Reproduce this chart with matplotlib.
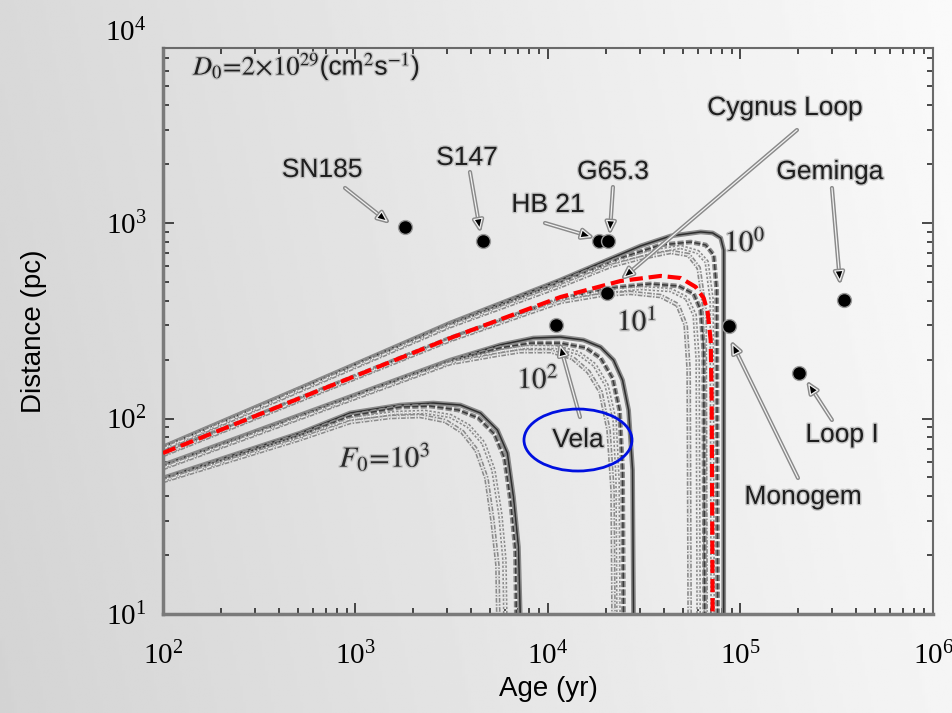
import numpy as np
import matplotlib
matplotlib.use("Agg")
import matplotlib.pyplot as plt
import matplotlib.patheffects as pe
from matplotlib.patches import Ellipse
from matplotlib.ticker import LogLocator, NullFormatter

plt.rcParams["font.family"] = ["Liberation Sans", "DejaVu Sans"]
plt.rcParams["mathtext.fontset"] = "stix"

# ---- curves: age (yr), distance (pc) ----
# F0 = 10^0
age_f0_a = [100, 516, 3110, 11610, 30280, 43380, 62130, 71720, 78960, 81840, 81840, 81840]
dist_f0_a = [71.5, 143, 308, 511, 763, 858, 900, 889, 838, 728, 404, 9]
age_f0_b = [100, 3110, 11610, 23830, 38480, 55110, 65970, 72600, 75240, 76140]
dist_f0_b = [71, 304, 499, 662, 772, 799, 772, 686, 454, 9]
age_f0_c = [100, 3110, 11610, 22440, 34140, 48900, 59940, 66750, 70860, 71720]
dist_f0_c = [70.6, 301, 488, 632, 711, 754, 711, 632, 404, 9]
age_f0_d = [100, 3110, 11610, 21150, 30280, 43380, 53810, 60660, 65170, 65970]
dist_f0_d = [69.8, 297, 476, 603, 662, 711, 686, 589, 359, 9]

# F0 = 10^1 (red dashed line is the highlighted model)
age_red = [100, 516, 3110, 11610, 23830, 38480, 48900, 58520, 64410, 67540, 70020, 70860, 71720]
dist_red = [66.6, 127.3, 258, 418, 505, 536, 523, 471, 413, 350, 252, 124, 9]
age_f1_a = [100, 3110, 11610, 21150, 34140, 47740, 57110, 62130, 64410, 65170]
dist_f1_a = [66.6, 258, 409, 465, 488, 476, 434, 359, 224, 9]
age_f1_b = [100, 3110, 11610, 19910, 30280, 43380, 52540, 57810, 59940, 60660]
dist_f1_b = [65.8, 255, 404, 449, 465, 454, 413, 338, 199, 9]
age_f1_c = [100, 3110, 11610, 18760, 26860, 38480, 47160, 51910, 53810, 54450]
dist_f1_c = [65.1, 252, 395, 428, 439, 423, 381, 301, 177, 9]

# F0 = 10^2
age_f2_a = [100, 516, 3110, 5660, 8406, 11610, 15300, 18760, 21910, 24410, 26230, 27510, 27840]
dist_f2_a = [57.8, 104.2, 199, 238, 258, 261, 252, 232, 199, 157, 110.5, 54.5, 9]
age_f2_b = [100, 3110, 5660, 8110, 11610, 15670, 18760, 21650, 23540, 24410, 24700]
dist_f2_b = [57.1, 197, 230, 243, 243, 230, 204, 161, 110.5, 54.5, 9]
age_f2_c = [100, 3110, 5660, 7638, 10940, 14410, 17460, 20150, 22180, 22990, 23260]
dist_f2_c = [56.5, 194.5, 221, 232, 232, 216, 188, 148, 98, 48.5, 9]
age_f2_d = [100, 3110, 5333, 7195, 10300, 13410, 16240, 18760, 20640, 21650, 21910]
dist_f2_d = [55.8, 192, 211, 221, 221, 204, 173, 137, 87.3, 43.1, 9]

# F0 = 10^3
age_f3_a = [100, 516, 939, 1709, 2538, 3507, 4457, 5462, 6152, 6616, 7025, 7195]
dist_f3_a = [49.6, 84.3, 106.7, 117.2, 120, 117.2, 106.7, 87.3, 66.6, 39.7, 22, 9]
age_f3_b = [100, 516, 939, 1709, 2448, 3424, 4350, 5269, 5939, 6383, 6776, 6858]
dist_f3_b = [49.0, 82.3, 103, 114.5, 115.8, 110.5, 100.6, 83.3, 62.8, 38.3, 21.3, 9]
age_f3_c = [100, 516, 939, 1610, 2306, 3110, 3858, 4619, 5206, 5660, 5939, 6012]
dist_f3_c = [48.5, 80.4, 99.4, 106.7, 108, 103, 91.5, 74.9, 54.5, 32.1, 18.9, 9]
age_f3_d = [100, 516, 939, 1516, 2172, 2930, 3592, 4247, 4788, 5144, 5462, 5527]
dist_f3_d = [47.9, 78.6, 96, 101.8, 103, 97.1, 85.3, 69, 49.6, 30.3, 17.8, 9]

# ---- observed sources ----
src_names = ["SN185", "S147", "HB 21", "G65.3", "Cygnus Loop", "Vela", "Monogem", "Geminga", "Loop I"]
src_age = [1815, 4619, 18310, 20390, 20150, 11070, 86860, 344400, 201000]
src_dist = [954, 809, 809, 809, 438, 301, 297, 404, 171]

# ---- figure with grey gradient background ----
fig = plt.figure(figsize=(9.52, 7.13), dpi=100)
bg_ax = fig.add_axes([0, 0, 1, 1])
gx = np.linspace(0, 1, 300)[None, :]
gy = np.linspace(0, 1, 300)[:, None]
bg = 0.83 + 0.13 * gx + 0.02 * (1 - gy)
bg_ax.imshow(bg, cmap="gray", vmin=0, vmax=1, aspect="auto", extent=[0, 1, 0, 1])
bg_ax.axis("off")

ax = fig.add_axes([0.1712, 0.1388, 0.8088, 0.7939])
ax.set_facecolor("none")
ax.set_xscale("log")
ax.set_yscale("log")
ax.set_xlim(1e2, 1e6)
ax.set_ylim(10, 10 ** 3.895)

halo = [pe.Stroke(linewidth=3.4, foreground="#8a8a8a"), pe.Normal()]
bundles = [
    [(age_f0_a, dist_f0_a), (age_f0_b, dist_f0_b), (age_f0_c, dist_f0_c), (age_f0_d, dist_f0_d)],
    [(age_f1_a, dist_f1_a), (age_f1_b, dist_f1_b), (age_f1_c, dist_f1_c)],
    [(age_f2_a, dist_f2_a), (age_f2_b, dist_f2_b), (age_f2_c, dist_f2_c), (age_f2_d, dist_f2_d)],
    [(age_f3_a, dist_f3_a), (age_f3_b, dist_f3_b), (age_f3_c, dist_f3_c), (age_f3_d, dist_f3_d)],
]
styles = [("-", "#2e2e2e"), ((0, (4, 1.5)), "#3c3c3c"), ((0, (1.5, 1.2)), "#f0f0f0"), ((0, (3, 1, 1, 1)), "#e6e6e6")]
for k, bundle in enumerate(bundles):
    for j, (a, d) in enumerate(bundle):
        ls, col = styles[j if k != 1 else j + 1]
        ax.plot(a, d, ls=ls, color=col, lw=1.1, path_effects=halo, zorder=2)

ax.plot(age_red, dist_red, color="#ff0000", lw=3, dashes=(3.2, 1.4), zorder=4)

ax.plot(src_age, src_dist, "o", color="black", ms=10, mec="#9a9a9a", mew=1, zorder=6)

# ---- annotations (axes-fraction layout) ----
txt_fx = [pe.withStroke(linewidth=2, foreground="#c4c4c4")]
arrow_kw = dict(arrowstyle="-|>,head_length=0.7,head_width=0.3", lw=0.9, ec="#f2f2f2", fc="black",
                shrinkA=0, shrinkB=0, path_effects=[pe.Stroke(linewidth=3, foreground="#8a8a8a"), pe.Normal()])
label_pos = [(0.2065, 0.7845), (0.3948, 0.8057), (0.5, 0.7226), (0.5844, 0.7809), (0.8078, 0.894),
             (0.539, 0.3074), (0.8312, 0.2067), (0.8662, 0.7809), (0.8818, 0.3163)]
arrow_tail = [(0.2364, 0.7527), (0.3987, 0.7809), (0.4961, 0.6908), (0.5844, 0.7544), (0.8234, 0.8551),
              (0.5416, 0.348), (0.8247, 0.2403), (0.8688, 0.7527), (0.8688, 0.3428)]
arrow_head = [(0.2922, 0.6926), (0.4117, 0.6784), (0.5571, 0.6661), (0.5805, 0.6749), (0.5974, 0.5936),
              (0.5156, 0.4753), (0.739, 0.4788), (0.8792, 0.5866), (0.8377, 0.4081)]
for name, lp, tail, head in zip(src_names, label_pos, arrow_tail, arrow_head):
    ax.annotate("", xy=head, xycoords="axes fraction", xytext=tail, textcoords="axes fraction",
                arrowprops=arrow_kw, zorder=5)
    ax.text(lp[0], lp[1], name, transform=ax.transAxes, ha="center", va="center",
            fontsize=19, color="#1e1e1e", path_effects=txt_fx, zorder=7)

ax.add_patch(Ellipse((0.539, 0.3074), 0.1403, 0.1095, transform=ax.transAxes,
                     fc="none", ec="#0010e0", lw=2, zorder=7))

for s, (xf, yf) in [(r"$10^0$", (0.7558, 0.6555)), (r"$10^1$", (0.6156, 0.5159)),
                    (r"$10^2$", (0.487, 0.4134)), (r"$F_0\!=\!10^3$", (0.2883, 0.2774))]:
    ax.text(xf, yf, s, transform=ax.transAxes, ha="center", va="center", fontsize=21,
            color="#2a2a2a", path_effects=txt_fx, zorder=7)

ax.text(0.039, 0.968, r"$D_0\!=\!2\!\times\!10^{29}$(cm$^2$s$^{-1}$)", transform=ax.transAxes,
        ha="left", va="center", fontsize=19, color="#1e1e1e", path_effects=txt_fx, zorder=7)

# ---- axes styling ----
for side in ["left", "bottom"]:
    ax.spines[side].set_linewidth(2.5)
    ax.spines[side].set_color("#7a7a7a")
for side in ["top", "right"]:
    ax.spines[side].set_linewidth(1.5)
    ax.spines[side].set_color("#6a6a6a")
ax.set_xticks([1e2, 1e3, 1e4, 1e5, 1e6])
ax.set_yticks([1e1, 1e2, 1e3])
ax.xaxis.set_minor_locator(LogLocator(base=10, subs=np.arange(2, 10), numticks=30))
ax.yaxis.set_minor_locator(LogLocator(base=10, subs=np.arange(2, 10), numticks=30))
ax.xaxis.set_minor_formatter(NullFormatter())
ax.yaxis.set_minor_formatter(NullFormatter())
ax.tick_params(which="both", direction="in", top=True, right=True, color="#2a2a2a", width=1.2)
ax.tick_params(which="major", length=8, labelsize=21, labelfontfamily="Liberation Serif")
ax.tick_params(axis="x", which="major", pad=20)
ax.tick_params(axis="y", which="major", pad=12)
ax.tick_params(which="minor", length=4)
ax.annotate(r"$\mathdefault{10^{4}}$", xy=(0, 1e4), xycoords=ax.get_yaxis_transform(),
            xytext=(-12, -4), textcoords="offset points", ha="right", va="center",
            fontsize=21, family="Liberation Serif", annotation_clip=False)

ax.set_xlabel("Age (yr)", fontsize=20, labelpad=4)
ax.set_ylabel("Distance (pc)", fontsize=20, labelpad=42)

fig.savefig("out.png", dpi=100)
